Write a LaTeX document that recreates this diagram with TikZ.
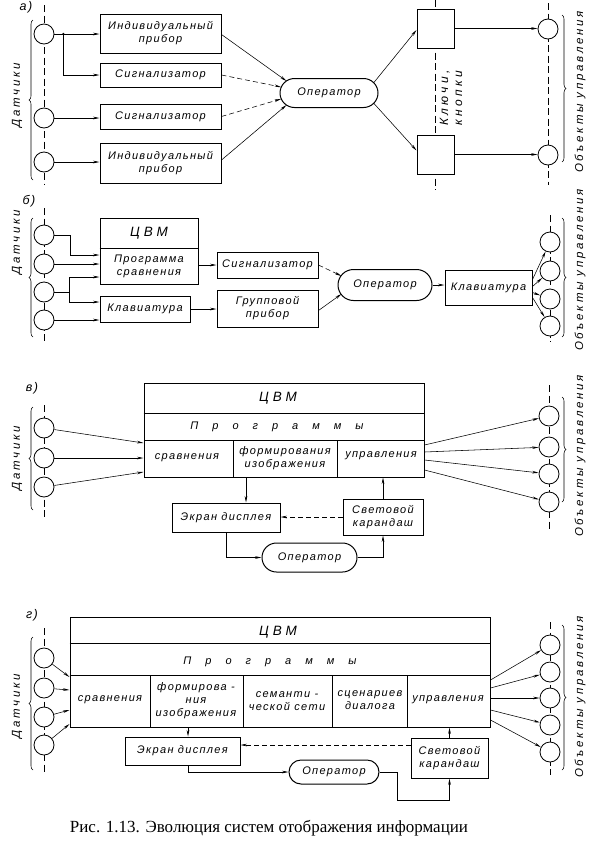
\documentclass[tikz,border=0pt]{standalone}
\usepackage{fontspec}
\setmainfont{Liberation Serif}
\newfontfamily\dfont{Liberation Sans}[LetterSpace=12]
\newfontfamily\dfontw{Liberation Sans}[LetterSpace=28]
\newfontfamily\dfonts{Liberation Sans}[LetterSpace=24]
\usetikzlibrary{arrows.meta,shapes.misc,decorations.pathreplacing,calc}
\tikzset{
 lbl/.style={font=\dfont\itshape\fontsize{11}{13}\selectfont, align=center, inner sep=0},
 plabel/.style={font=\dfont\itshape\fontsize{12.5}{14}\selectfont, inner sep=0},
 big/.style={font=\dfontw\itshape\fontsize{13.5}{15}\selectfont, inner sep=0},
 box/.style={draw, line width=1pt, fill=white, lbl},
 oper/.style={draw, line width=1pt, fill=white, rounded rectangle, lbl},
 sens/.style={draw, line width=0.8pt, fill=white, circle, minimum size=20pt, inner sep=0},
 conn/.style={line width=0.55pt, -{Stealth[length=6.5pt,width=2.6pt]}},
 dconn/.style={conn, dash pattern=on 5pt off 3pt},
 axis/.style={line width=0.55pt, dash pattern=on 7pt off 3.5pt},
 lbrace/.style={line width=0.55pt, decorate, decoration={brace, amplitude=4pt}},
 side/.style={font=\dfonts\itshape\fontsize{11.5}{13}\selectfont, align=center, inner sep=0, rotate=90},
 keys/.style={font=\dfontw\itshape\fontsize{12}{14}\selectfont, align=center, inner sep=0, rotate=90},
 sep/.style={line width=0.7pt},
}
\begin{document}
\begin{tikzpicture}[x=1pt,y=-1pt]
\useasboundingbox (0,0) rectangle (595,849);
% ---------------- panel a
\draw[axis] (44,5) -- (44,185);
\draw[axis] (435.5,0) -- (435.5,190);
\draw[axis] (548,3) -- (548,185);
\node[sens] (as1) at (44,34) {};
\node[sens] (as2) at (44,118) {};
\node[sens] (as3) at (44,162) {};
\node[box, minimum width=121pt, minimum height=39pt] (ab1) at (160.5,33.5) {Индивидуальный\\прибор};
\node[box, minimum width=121pt, minimum height=24pt] (ab2) at (160.5,75) {Сигнализатор};
\node[box, minimum width=121pt, minimum height=25pt] (ab3) at (160.5,116.5) {Сигнализатор};
\node[box, minimum width=121pt, minimum height=40pt] (ab4) at (160.5,163) {Индивидуальный\\прибор};
\node[oper, minimum width=98pt, minimum height=29pt] (aop) at (329,93) {Оператор};
\node[box, minimum width=37pt, minimum height=39pt] (ak1) at (435.5,28.5) {};
\node[box, minimum width=37pt, minimum height=39pt] (ak2) at (435.5,154.5) {};
\node[sens] (ao1) at (548,29) {};
\node[sens] (ao2) at (548,155) {};
\node[keys] (akt) at (451,98) {Ключи,\\кнопки};
\node[plabel] (alab) at (26,7) {а)};
\node[side] (adat) at (17,95) {Датчики};
\node[side] (aobj) at (580,92) {Объекты управления};
\draw[lbrace] (33,180) -- (33,20);
\draw[lbrace] (562,15) -- (562,162);
\draw[conn] (as1.east) -- (as1.east -| ab1.west);
\coordinate (aj) at ($(as1.east)+(9,0)$);
\fill (aj) circle (1.3pt);
\draw[conn] (aj) |- (ab2.west);
\draw[conn] (as2.east) -- (as2.east -| ab3.west);
\draw[conn] (as3.east) -- (as3.east -| ab4.west);
\draw[conn] ($(ab1.east)+(0,1)$) -- ($(aop.west)+(7,-12)$);
\draw[dconn] (ab2.east) -- ($(aop.west)+(1.5,-6)$);
\draw[dconn] (ab3.east) -- ($(aop.west)+(1.5,6)$);
\draw[conn] ($(ab4.east)+(0,-3)$) -- ($(aop.west)+(7,12)$);
\draw[conn] ($(aop.east)+(-5,-10)$) -- ($(ak1.west)+(0,1.5)$);
\draw[conn] ($(aop.east)+(-5,10)$) -- ($(ak2.west)+(0,-4)$);
\draw[conn] (ak1.east) -- (ak1.east -| ao1.west);
\draw[conn] (ak2.east) -- (ak2.east -| ao2.west);
% ---------------- panel b
\draw[axis] (44,208) -- (44,342);
\draw[axis] (550,215) -- (550,342);
\node[sens] (bs1) at (44,235) {};
\node[sens] (bs2) at (44,264) {};
\node[sens] (bs3) at (44,292) {};
\node[sens] (bs4) at (44,320) {};
\node[box, minimum width=98pt, minimum height=66pt] (bc) at (149,251) {};
\draw[sep] (bc.west |- 0,248) -- (bc.east |- 0,248);
\node[big] (bct) at (149,233) {ЦВМ};
\node[lbl] (bcp) at (149,266) {Программа\\сравнения};
\node[box, minimum width=90pt, minimum height=26pt] (bk) at (145,309) {Клавиатура};
\node[box, minimum width=101pt, minimum height=26pt] (bsg) at (267.5,265) {Сигнализатор};
\node[box, minimum width=101pt, minimum height=37pt] (bgr) at (267.5,308.5) {Групповой\\прибор};
\node[oper, minimum width=94pt, minimum height=31pt] (bop) at (385,285) {Оператор};
\node[box, minimum width=87pt, minimum height=35pt] (bk2) at (488.5,287.5) {Клавиатура};
\node[sens] (bo1) at (550,242) {};
\node[sens] (bo2) at (550,271) {};
\node[sens] (bo3) at (550,299) {};
\node[sens] (bo4) at (550,326) {};
\node[plabel] (blab) at (29,201) {б)};
\node[side] (bdat) at (17,242) {Датчики};
\node[side] (bobj) at (580,270) {Объекты управления};
\draw[lbrace] (33,337) -- (33,218);
\draw[lbrace] (562,218) -- (562,337);
\draw[conn] (bs1.east) -- ++(16,0) |- ($(bc.west)+(0,4)$);
\draw[conn] (bs2.east) -- (bs2.east -| bc.west);
\coordinate (bj) at ($(bs3.east)+(15,0)$);
\draw[line width=0.55pt] (bs3.east) -- (bj);
\draw[conn] (bj) |- ($(bc.west)+(0,26)$);
\draw[conn] (bj) |- ($(bk.west)+(0,-7)$);
\draw[conn] (bs4.east) -- (bs4.east -| bk.west);
\draw[conn] (bc.east |- bsg.west) -- (bsg.west);
\draw[conn] (bk.east) -- (bk.east -| bgr.west);
\draw[dconn] (bsg.east) -- ($(bop.west)+(4,-9)$);
\draw[conn] ($(bgr.east)+(0,2)$) -- ($(bop.west)+(4,9)$);
\draw[conn] (bop.east) -- (bop.east -| bk2.west);
\draw[conn] ($(bk2.east)+(0,-8)$) -- (bo1);
\draw[conn] ($(bk2.east)+(0,-1)$) -- (bo2);
\draw[conn] ($(bk2.east)+(0,5)$) -- (bo3);
\draw[conn] ($(bk2.east)+(0,10)$) -- (bo4);
% ---------------- panel c
\draw[axis] (44,405) -- (44,517);
\draw[axis] (549,385) -- (549,532);
\node[sens] (cs1) at (44,428) {};
\node[sens] (cs2) at (44,458) {};
\node[sens] (cs3) at (44,487) {};
\node[box, minimum width=280pt, minimum height=94pt] (cc) at (284,430) {};
\draw[sep] (cc.west |- 0,413) -- (cc.east |- 0,413);
\draw[sep] (cc.west |- 0,440) -- (cc.east |- 0,440);
\draw[sep] (233,440) -- (233,477);
\draw[sep] (337,440) -- (337,477);
\node[big] (cct) at (278,398) {ЦВМ};
\node[lbl] (ccp) at (277,427) {П\hspace{14pt}р\hspace{14pt}о\hspace{14pt}г\hspace{14pt}р\hspace{14pt}а\hspace{14pt}м\hspace{14pt}м\hspace{14pt}ы};
\node[lbl] (cc1) at (187,458) {сравнения};
\node[lbl] (cc2) at (285,458) {формирования\\изображения};
\node[lbl] (cc3) at (381,456) {управления};
\node[box, minimum width=108pt, minimum height=29pt] (cek) at (226,517.5) {Экран дисплея};
\node[box, minimum width=80pt, minimum height=36pt] (csv) at (383,517) {Световой\\карандаш};
\node[oper, minimum width=95pt, minimum height=29pt] (cop) at (309.5,557.5) {Оператор};
\node[sens] (co1) at (549,416) {};
\node[sens] (co2) at (549,447) {};
\node[sens] (co3) at (549,474) {};
\node[sens] (co4) at (549,502) {};
\node[plabel] (clab) at (32,388) {в)};
\node[side] (cdat) at (17,458) {Датчики};
\node[side] (cobj) at (580,456) {Объекты управления};
\draw[lbrace] (33,510) -- (33,407);
\draw[lbrace] (562,397) -- (562,502);
\draw[conn] (cs1) -- ($(cc.west)+(0,13)$);
\draw[conn] (cs2) -- ($(cc.west)+(0,28)$);
\draw[conn] (cs3) -- ($(cc.west)+(0,42)$);
\coordinate (ct) at ($(cek.north)+(20,0)$);
\draw[conn] (ct |- cc.south) -- (ct);
\draw[conn] (csv.north) -- (csv.north |- cc.south);
\draw[dconn] (csv.west) -- (csv.west -| cek.east);
\draw[conn] (cek.south) |- (cop.west);
\draw[conn] (cop.east) -| (csv.south);
\draw[conn] ($(cc.east)+(0,15)$) -- (co1);
\draw[conn] ($(cc.east)+(0,22)$) -- (co2);
\draw[conn] ($(cc.east)+(0,30)$) -- (co3);
\draw[conn] ($(cc.east)+(0,40)$) -- (co4);
% ---------------- panel d
\draw[axis] (44,628) -- (44,775);
\draw[axis] (550,622) -- (550,775);
\node[sens] (ds1) at (44,658) {};
\node[sens] (ds2) at (44,688) {};
\node[sens] (ds3) at (44,717) {};
\node[sens] (ds4) at (44,745) {};
\node[box, minimum width=420pt, minimum height=110pt] (dc) at (280,672) {};
\draw[sep] (dc.west |- 0,643) -- (dc.east |- 0,643);
\draw[sep] (dc.west |- 0,675) -- (dc.east |- 0,675);
\draw[sep] (150,675) -- (150,727);
\draw[sep] (243,675) -- (243,727);
\draw[sep] (332,675) -- (332,727);
\draw[sep] (407,675) -- (407,727);
\node[big] (dct) at (278,632) {ЦВМ};
\node[lbl] (dcp) at (270,662) {П\hspace{14pt}р\hspace{14pt}о\hspace{14pt}г\hspace{14pt}р\hspace{14pt}а\hspace{14pt}м\hspace{14pt}м\hspace{14pt}ы};
\node[lbl] (dc1) at (110,700) {сравнения};
\node[lbl] (dc2) at (196,701) {формирова -\\ния\\изображения};
\node[lbl] (dc3) at (287,701) {семанти -\\ческой сети};
\node[lbl] (dc4) at (370,700) {сценариев\\диалога};
\node[lbl] (dc5) at (448,700) {управления};
\node[box, minimum width=115pt, minimum height=28pt] (dek) at (182.5,751) {Экран дисплея};
\node[box, minimum width=77pt, minimum height=40pt] (dsv) at (449.5,758) {Световой\\карандаш};
\node[oper, minimum width=90pt, minimum height=24pt] (dop) at (334,772) {Оператор};
\node[sens] (do1) at (550,645) {};
\node[sens] (do2) at (550,672) {};
\node[sens] (do3) at (550,698) {};
\node[sens] (do4) at (550,725) {};
\node[sens] (do5) at (550,752) {};
\node[plabel] (dlab) at (32,615) {г)};
\node[side] (ddat) at (17,706) {Датчики};
\node[side] (dobj) at (580,697) {Объекты управления};
\draw[lbrace] (33,770) -- (33,637);
\draw[lbrace] (562,625) -- (562,770);
\draw[conn] (ds1) -- ($(dc.west)+(0,5)$);
\draw[conn] (ds2) -- ($(dc.west)+(0,18)$);
\draw[conn] (ds3) -- ($(dc.west)+(0,38)$);
\draw[conn] (ds4) -- ($(dc.west)+(0,52)$);
\coordinate (dt) at ($(dek.north)+(5.5,0)$);
\draw[conn] (dt |- dc.south) -- (dt);
\draw[conn] (dsv.north) -- (dsv.north |- dc.south);
\coordinate (dd) at ($(dsv.west)+(0,-13)$);
\draw[dconn] (dd) -- (dd -| dek.east);
\coordinate (dsb) at ($(dek.south)+(5.5,0)$);
\draw[conn] (dsb) |- (dop.west);
\coordinate (dq) at ($(dop.east)+(18,28)$);
\draw[conn] (dop.east) -| (dq) -| (dsv.south);
\draw[conn] ($(dc.east)+(0,8)$) -- (do1);
\draw[conn] ($(dc.east)+(0,16)$) -- (do2);
\draw[conn] ($(dc.east)+(0,26)$) -- (do3);
\draw[conn] ($(dc.east)+(0,38)$) -- (do4);
\draw[conn] ($(dc.east)+(0,48)$) -- (do5);
% caption
\node[font=\fontsize{17}{19}\selectfont, inner sep=0] (cap) at (269,828) {Рис. 1.13. Эволюция систем отображения информации};
\end{tikzpicture}
\end{document}
